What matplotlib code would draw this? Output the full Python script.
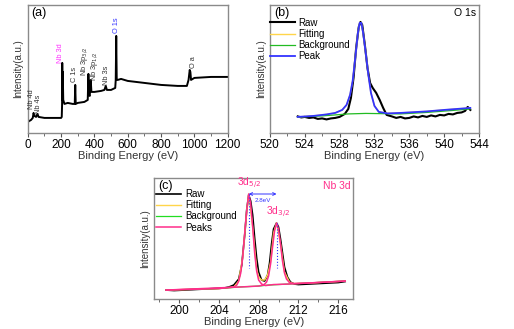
import numpy as np
import matplotlib
matplotlib.use("Agg")
import matplotlib.pyplot as plt
from matplotlib.ticker import MultipleLocator

plt.rcParams['font.family'] = ['Liberation Sans', 'DejaVu Sans']

# ---- (a) survey spectrum ----
survey_be = [0, 20, 30, 35, 40, 50, 58, 65, 100, 150, 200, 204, 206, 207, 209, 210, 213,
             220, 240, 270, 282, 285, 288, 300, 340, 360, 364, 367, 372, 378, 382, 400,
             440, 460, 468, 475, 500, 525, 528, 531, 534, 540, 560, 600, 700, 800, 900,
             955, 965, 972, 976, 980, 1000, 1100, 1200]
survey_int = [11, 13, 15, 20, 17, 16, 19, 16, 15, 15, 15, 16, 28, 70, 33, 61, 33,
              29, 30, 29, 29, 48, 29, 30, 31, 33, 59, 38, 37, 53, 41, 41,
              42, 43, 47, 43, 43, 45, 53, 97, 53, 53, 54, 52, 50, 48, 47,
              47, 53, 63, 61, 53, 55, 56, 56]
survey_labels = ["Nb 4d", "Nb 4s", "Nb 3d", "C 1s", r"Nb 3p$_{3/2}$", r"Nb 3p$_{1/2}$",
                 "Nb 3s", "O 1s", "O a"]
label_be = [25, 62, 198, 283, 342, 402, 472, 532, 995]
label_int = [24, 19, 70, 51, 57, 52, 48, 100, 65]
label_colors = ['#333333', '#333333', '#ff33ff', '#333333', '#333333', '#333333',
                '#333333', '#3333ff', '#333333']

# ---- (b) O 1s ----
o_raw_be = [523.2, 523.6, 524, 524.5, 525, 525.5, 526, 526.5, 527, 527.5, 528, 528.6, 529,
            529.3, 529.6, 529.9, 530.2, 530.4, 530.6, 530.9, 531.2, 531.5, 531.8, 532.2,
            532.6, 533, 533.4, 534, 534.5, 535, 535.5, 536, 536.5, 537, 537.5, 538, 538.5,
            539, 539.5, 540, 540.5, 541, 541.5, 542, 542.4, 542.7, 543]
o_raw_int = [16.5, 15.5, 16, 15, 15.5, 14, 14.5, 13.5, 14.5, 15, 16, 19, 24,
             35, 55, 85, 106, 111, 108, 88, 65, 50, 45, 40,
             33, 25, 18, 16.5, 15, 16, 14.5, 15, 16.5, 15.5, 17, 16, 17.5,
             16.5, 18, 17.5, 19, 18.5, 20, 20.5, 22, 26, 23]
o_bg_be = [523.2, 526, 529, 531, 535, 538, 541, 543]
o_bg_int = [16, 17, 19, 19.5, 19, 20.5, 22.5, 24]
o_peak_be = [523.2, 525, 526.5, 527.5, 528.3, 528.8, 529.2, 529.5, 529.8, 530.1, 530.3,
             530.5, 530.7, 531.0, 531.3, 531.6, 532.0, 532.5, 533.5, 535, 538, 540, 543]
o_peak_int = [16, 17, 18.5, 20, 23, 28, 38, 52, 75, 100, 110,
              110, 100, 80, 58, 40, 27, 21, 19.5, 20, 21.5, 23, 25]

# ---- (c) Nb 3d ----
nb_raw_be = [198.7, 199.5, 200.5, 201.5, 202.5, 203.5, 204.5, 205, 205.5, 206, 206.3, 206.6,
             206.8, 207.0, 207.2, 207.4, 207.6, 207.8, 208.0, 208.3, 208.6, 208.9, 209.1,
             209.3, 209.5, 209.8, 210.0, 210.2, 210.4, 210.6, 210.9, 211.2, 211.6, 212,
             213, 214, 215, 216, 216.7]
nb_raw_int = [9, 8.5, 9, 9.5, 10, 10.5, 11, 12, 14, 20, 34, 64,
              89, 104, 98, 84, 61, 41, 27, 19, 18, 24, 36,
              55, 70, 76, 72, 60, 46, 32, 22, 17, 15, 14.5,
              15, 15.5, 16, 16.5, 17.5]
nb_fit_be = [198.7, 204, 205.5, 206, 206.4, 206.8, 207.0, 207.4, 207.8, 208.0, 208.3, 208.6,
             208.9, 209.2, 209.5, 209.8, 210.2, 210.6, 211.1, 211.5, 213, 216.7]
nb_fit_int = [9, 10.5, 12, 18, 42, 88, 105, 72, 30, 22, 19, 19,
              24, 37, 66, 76, 55, 27, 17, 15.5, 16, 18]
nb_bg_be = [198.7, 204, 206, 208, 209, 211, 216.7]
nb_bg_int = [9, 10.5, 12, 13, 14, 15, 18]
nb_p1_be = [198.7, 204.0, 205.5, 205.8, 206.0, 206.2, 206.4, 206.6, 206.8, 207.0, 207.2,
            207.4, 207.6, 207.8, 208.0, 208.3, 208.7, 209.5, 211, 216.7]
nb_p1_int = [9, 10.5, 12, 14, 18, 26, 42, 66, 88, 105, 95,
             72, 46, 28, 19, 15, 13.5, 14.5, 15, 18]
nb_p2_be = [198.7, 206, 208.0, 208.5, 208.8, 209.0, 209.2, 209.4, 209.6, 209.8, 210.0,
            210.2, 210.4, 210.6, 210.8, 211.1, 211.5, 213, 216.7]
nb_p2_int = [9, 12, 13, 14, 17, 23, 35, 52, 68, 76, 70,
             55, 38, 26, 20, 16.5, 15.5, 16, 18]
nb_peaks_be = [207.0, 209.8]
nb_peaks_int = [105, 76]

fig = plt.figure(figsize=(5.14, 3.29), dpi=100)
ax_a = fig.add_axes([0.054, 0.596, 0.389, 0.389])
ax_b = fig.add_axes([0.525, 0.596, 0.407, 0.389])
ax_c = fig.add_axes([0.300, 0.091, 0.387, 0.368])

def style(ax, major, minor):
    for s in ax.spines.values():
        s.set_color('#8a8a8a')
        s.set_linewidth(1.0)
    ax.set_yticks([])
    ax.xaxis.set_major_locator(MultipleLocator(major))
    ax.xaxis.set_minor_locator(MultipleLocator(minor))
    ax.tick_params(axis='x', which='major', direction='out', length=3, width=0.8,
                   color='#555555', labelsize=8.5, pad=1.5)
    ax.tick_params(axis='x', which='minor', direction='out', length=2, width=0.6,
                   color='#555555')
    ax.set_xlabel('Binding Energy (eV)', fontsize=8, labelpad=0, color='#333333')
    ax.set_ylabel('Intensity(a.u.)', fontsize=7, labelpad=3, color='#333333')

# (a)
ax_a.plot(survey_be, survey_int, color='black', lw=1.4)
ax_a.set_xlim(0, 1200)
ax_a.set_ylim(0, 128)
style(ax_a, 200, 100)
for t, x, y, c in zip(survey_labels, label_be, label_int, label_colors):
    ax_a.text(x, y, t, rotation=90, fontsize=5.3, color=c, ha='center', va='bottom')
ax_a.text(0.015, 0.985, '(a)', transform=ax_a.transAxes, fontsize=9, va='top', ha='left')

# (b)
ax_b.plot(o_raw_be, o_raw_int, color='black', lw=1.5, label='Raw')
ax_b.plot(o_peak_be, o_peak_int, color='#ffd54a', lw=1.0, label='Fitting')
ax_b.plot(o_bg_be, o_bg_int, color='#22bb22', lw=0.9, label='Background')
ax_b.plot(o_peak_be, o_peak_int, color='#3333ff', lw=1.3, label='Peak')
ax_b.set_xlim(520, 544)
ax_b.set_ylim(0, 128)
style(ax_b, 4, 2)
ax_b.legend(loc='upper left', bbox_to_anchor=(-0.02, 0.93), frameon=False, fontsize=7,
            handlelength=2.6, handletextpad=0.4, labelspacing=0.12, borderaxespad=0)
ax_b.text(0.02, 0.985, '(b)', transform=ax_b.transAxes, fontsize=9, va='top', ha='left')
ax_b.text(0.985, 0.975, 'O 1s', transform=ax_b.transAxes, fontsize=7.5, va='top', ha='right')

# (c)
ax_c.plot(nb_raw_be, nb_raw_int, color='black', lw=1.2, label='Raw')
ax_c.plot(nb_fit_be, nb_fit_int, color='#ffd54a', lw=1.0, label='Fitting')
ax_c.plot(nb_bg_be, nb_bg_int, color='#22dd22', lw=0.9, label='Background')
ax_c.plot(nb_p1_be, nb_p1_int, color='#ff2d8a', lw=1.1, label='Peaks')
ax_c.plot(nb_p2_be, nb_p2_int, color='#ff2d8a', lw=1.1)
ax_c.set_xlim(197.5, 217.5)
ax_c.set_ylim(0, 121)
style(ax_c, 4, 2)
ax_c.legend(loc='upper left', bbox_to_anchor=(-0.01, 0.94), frameon=False, fontsize=7,
            handlelength=2.6, handletextpad=0.4, labelspacing=0.12, borderaxespad=0)
for x, y in zip(nb_peaks_be, nb_peaks_int):
    ax_c.plot([x, x], [y, 31], color='#3333ff', lw=0.8, ls=':')
ax_c.annotate('', xy=(nb_peaks_be[0], 105), xytext=(nb_peaks_be[1], 105),
              arrowprops=dict(arrowstyle='<->', color='#3333ff', lw=0.7,
                              shrinkA=0, shrinkB=0, mutation_scale=5))
ax_c.text(sum(nb_peaks_be) / 2, 101, '2.8eV', fontsize=4.5, color='#3333ff',
          ha='center', va='top')
ax_c.text(nb_peaks_be[0], 108, r'3d$_{5/2}$', fontsize=7.5, color='#ff2d8a',
          ha='center', va='bottom')
ax_c.text(nb_peaks_be[1] + 0.2, 79, r'3d$_{3/2}$', fontsize=7.5, color='#ff2d8a',
          ha='center', va='bottom')
ax_c.text(0.02, 0.985, '(c)', transform=ax_c.transAxes, fontsize=9, va='top', ha='left')
ax_c.text(0.985, 0.975, 'Nb 3d', transform=ax_c.transAxes, fontsize=7.5, va='top',
          ha='right', color='#ff2d8a')

fig.savefig('out.png', dpi=100)
